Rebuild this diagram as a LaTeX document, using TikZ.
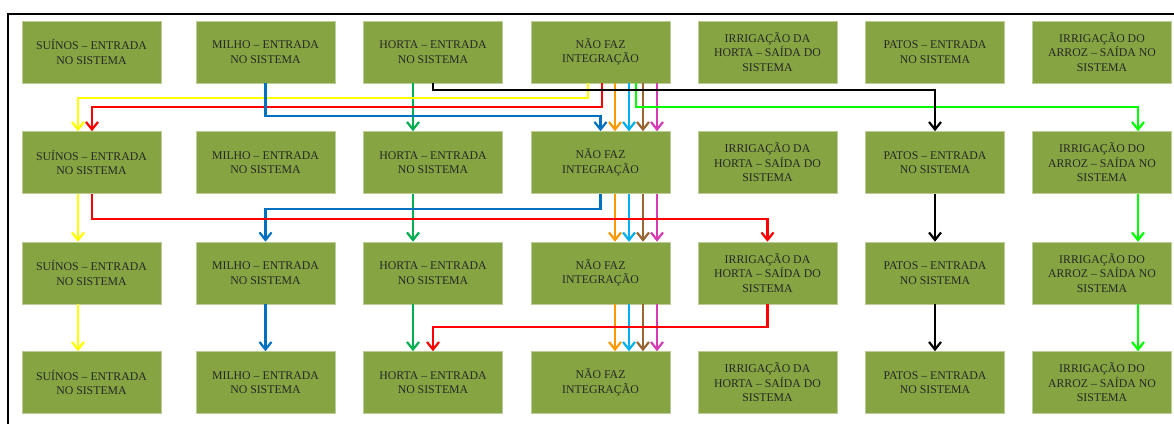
\documentclass[tikz,border=0pt]{standalone}
\usepackage{fontspec}
\setmainfont{Liberation Serif}
\usetikzlibrary{arrows.meta}
\definecolor{boxgreen}{HTML}{86A542}
\definecolor{ylw}{HTML}{FFFF00}
\definecolor{rd}{HTML}{FF0000}
\definecolor{blu}{HTML}{0070C0}
\definecolor{grn}{HTML}{00B050}
\definecolor{org}{HTML}{FF9900}
\definecolor{lbl}{HTML}{00B0F0}
\definecolor{brn}{HTML}{996633}
\definecolor{mag}{HTML}{D63AB4}
\definecolor{lgr}{HTML}{00FF00}
\begin{document}
\begin{tikzpicture}[x=1pt,y=-1pt]
\tikzset{box/.style={draw=boxgreen!55!white,line width=.6pt,fill=boxgreen,
  minimum width=139pt,minimum height=62pt,inner sep=1pt,align=center,
  font=\fontsize{11.8}{14.5}\selectfont,text=black!85}}
\tikzset{flow/.style={line width=2.2pt,-{Straight Barb[length=7.5pt,width=12pt]}}}
\useasboundingbox (0,0) rectangle (1174,423);
% frame
\draw[line width=1.8pt] (8,430) -- (8,14) -- (1180,14);
% The boxes, one row per year
\foreach \r/\y in {1/52,2/162.5,3/273,4/382.5}{
  \node[box] (s\r) at (91.5,\y) {SUÍNOS -- ENTRADA\\NO SISTEMA};
  \node[box] (m\r) at (265.5,\y) {MILHO -- ENTRADA\\NO SISTEMA};
  \node[box] (h\r) at (433,\y) {HORTA -- ENTRADA\\NO SISTEMA};
  \node[box] (n\r) at (600.5,\y) {NÃO FAZ\\INTEGRAÇÃO};
  \node[box] (i\r) at (767.5,\y) {IRRIGAÇÃO DA\\HORTA -- SAÍDA DO\\SISTEMA};
  \node[box] (p\r) at (935,\y) {PATOS -- ENTRADA\\NO SISTEMA};
  \node[box] (a\r) at (1102,\y) {IRRIGAÇÃO DO\\ARROZ -- SAÍDA NO\\SISTEMA};
}
%%%
% straight flows
\foreach \a/\b in {1/2,2/3,3/4}{
  \foreach \dx/\col in {14.5/org,28.5/lbl,42.5/brn,56.5/mag}
    \draw[flow,\col] ([xshift=\dx pt]n\a.south) -- ([xshift=\dx pt]n\b.north);
  \draw[flow,grn] ([xshift=-20pt]h\a.south) -- ([xshift=-20pt]h\b.north);
}
\foreach \a/\b in {2/3,3/4}{
  \draw[flow,ylw] ([xshift=-13.5pt]s\a.south) -- ([xshift=-13.5pt]s\b.north);
  \draw[flow,lgr] ([xshift=36pt]a\a.south) -- ([xshift=36pt]a\b.north);
  \draw[flow,black] (p\a.south) -- (p\b.north);
}
\draw[flow,blu] (m3.south) -- (m4.north);
%%%
% flows that change system
\draw[flow,ylw] ([xshift=-12.5pt]n1.south) -- ++(0,15) -| ([xshift=-13.5pt]s2.north);
\draw[flow,rd] ([xshift=1.5pt]n1.south) -- ++(0,24) -| ([xshift=.5pt]s2.north);
\draw[flow,lgr] ([xshift=35.5pt]n1.south) -- ++(0,24) -| ([xshift=36pt]a2.north);
\draw[flow,blu] (m1.south) -- ++(0,33) -| (n2.north);
\draw[flow,black] (h1.south) -- ++(0,7) -| (p2.north);
\draw[flow,blu] (n2.south) -- ++(0,15) -| (m3.north);
\draw[flow,rd] ([xshift=.5pt]s2.south) -- ++(0,25) -| (i3.north);
\draw[flow,rd] (i3.south) -- ++(0,23) -| (h4.north);
\end{tikzpicture}
\end{document}
